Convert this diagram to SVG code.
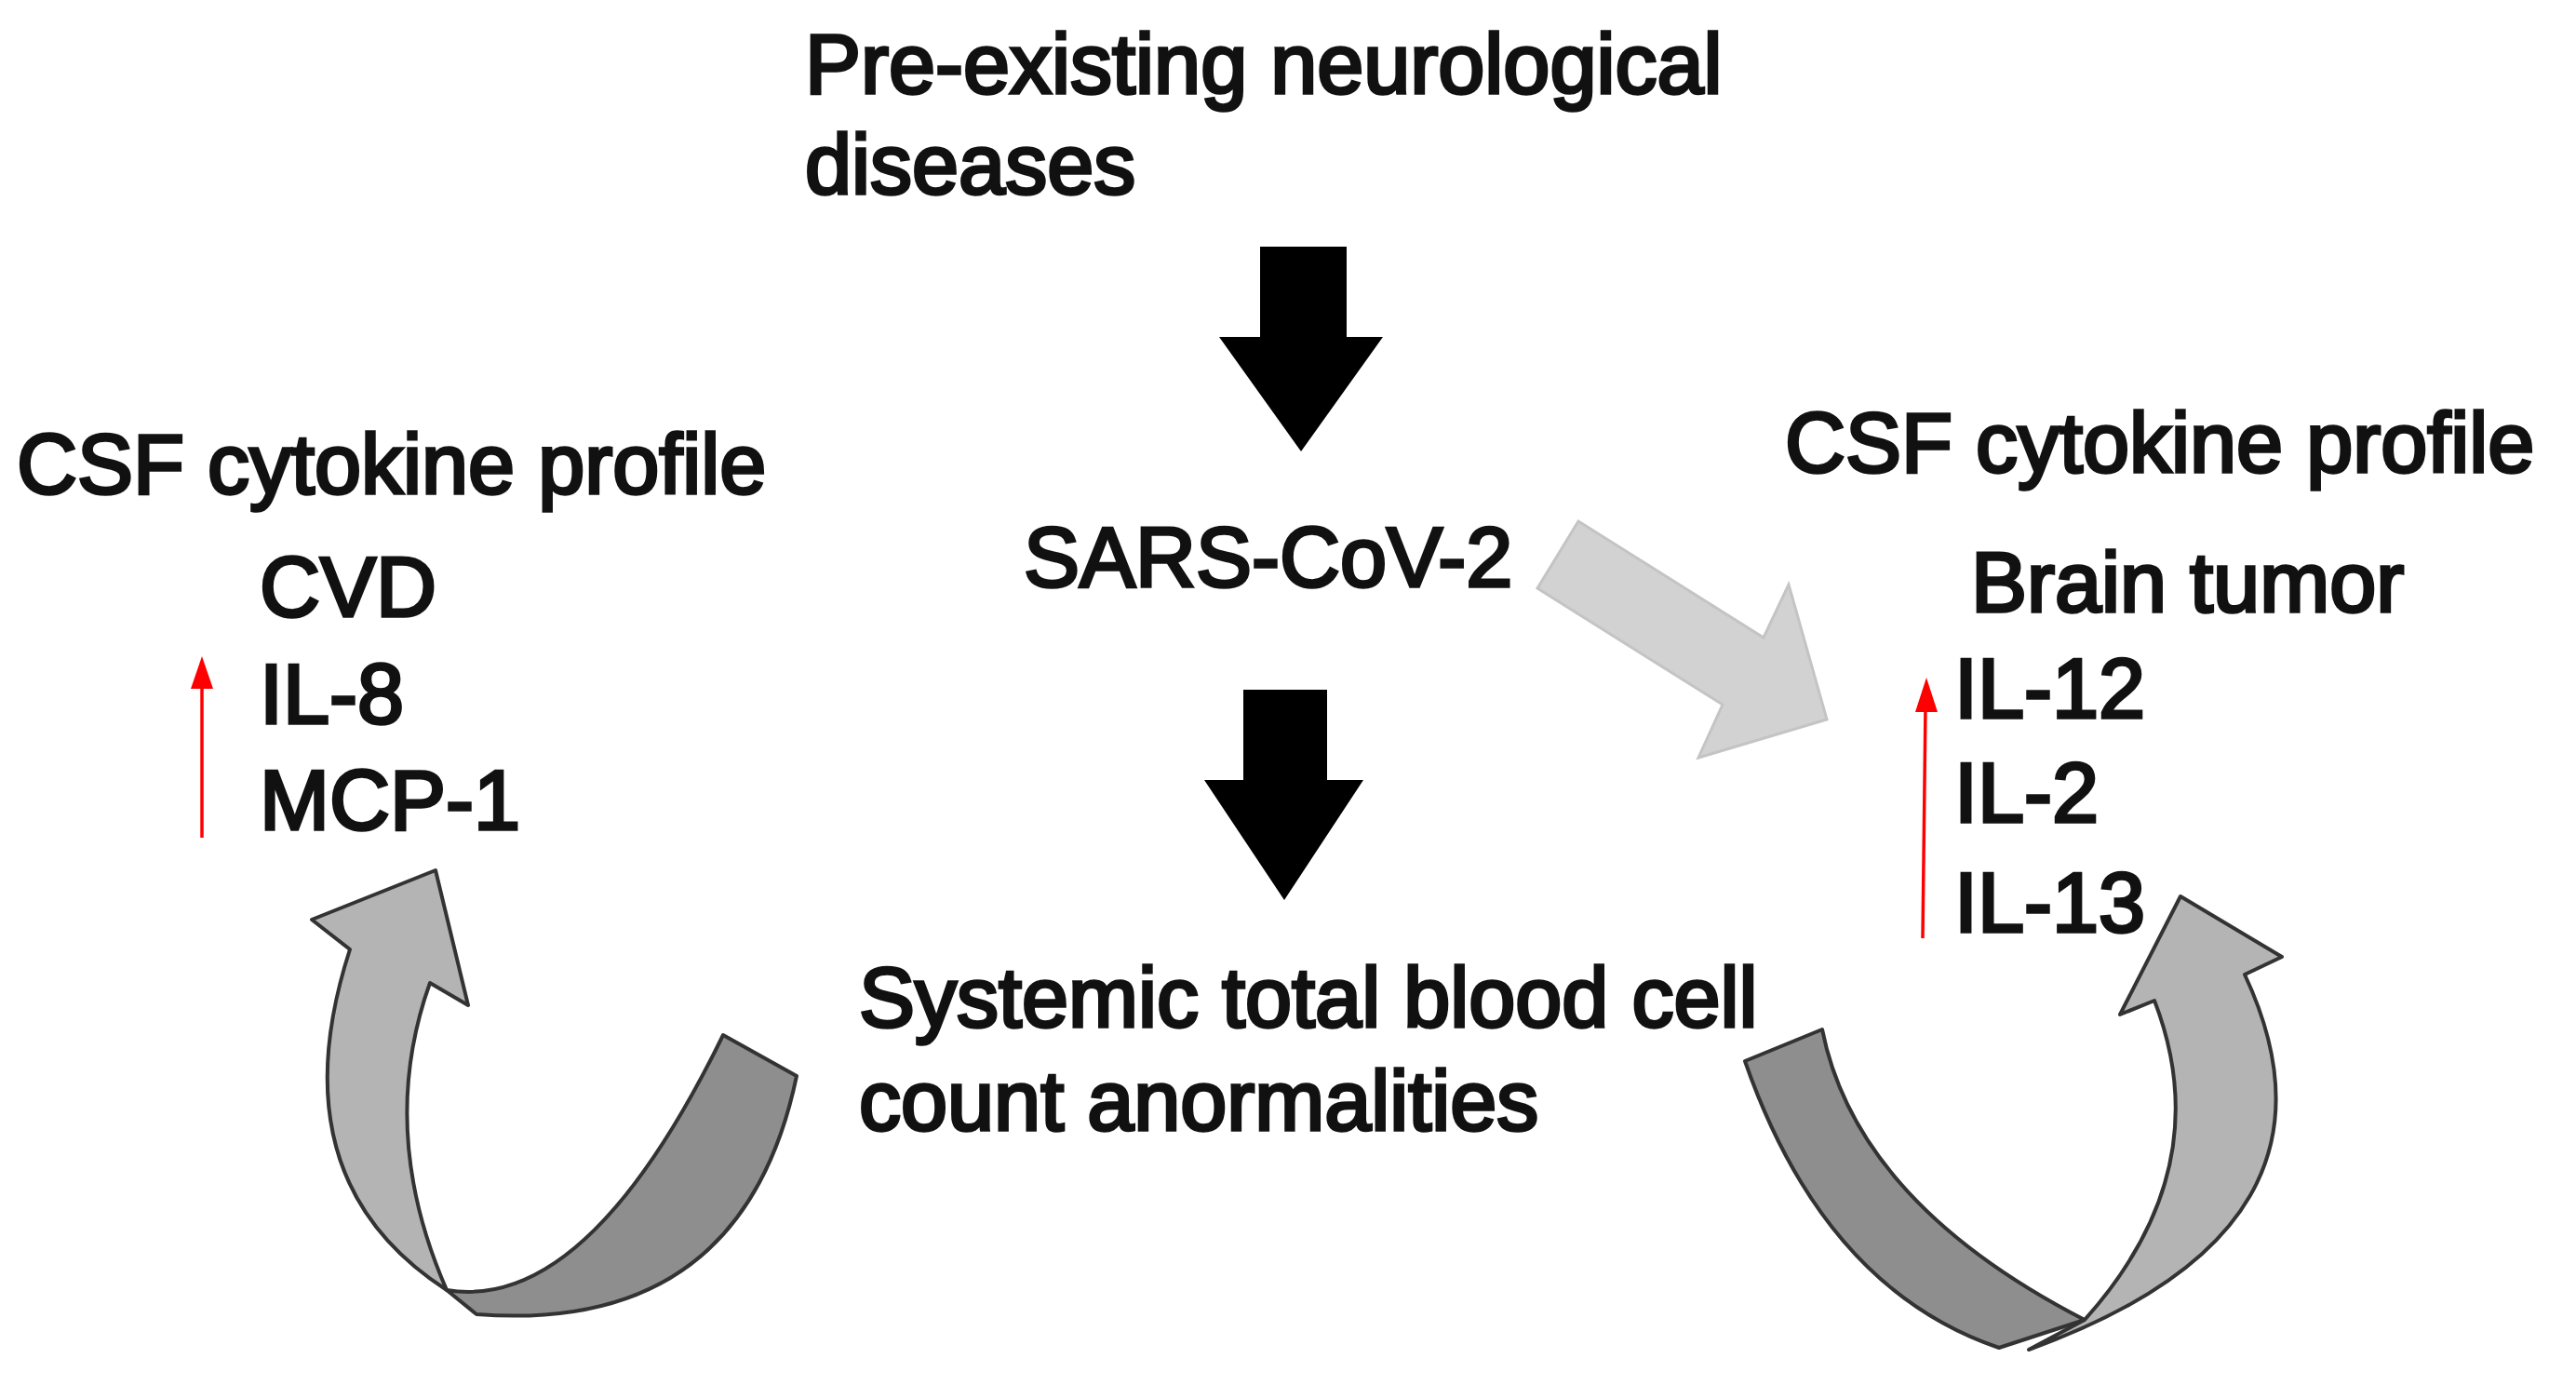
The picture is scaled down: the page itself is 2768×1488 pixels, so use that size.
<svg xmlns="http://www.w3.org/2000/svg" width="2768" height="1488" viewBox="0 0 2768 1488">
<style>
text{font-family:"Liberation Sans",Arial,sans-serif;font-size:90px;fill:#111;stroke:#111;stroke-width:3.5}
.blk{fill:#000}
.lt{fill:#b4b4b4;stroke:#333;stroke-width:4;stroke-linejoin:round}
.dk{fill:#8e8e8e;stroke:#333;stroke-width:4;stroke-linejoin:round}
.red{stroke:#f00;stroke-width:3.5;fill:none}
</style>
<g id="title"><text x="865" y="100">Pre-existing neurological</text><text x="865" y="208">diseases</text></g>
<g id="sars"><text x="1100" y="630">SARS-CoV-2</text></g>
<g id="systemic"><text x="923" y="1103">Systemic total blood cell</text><text x="923" y="1214">count anormalities</text></g>
<g id="left-profile"><text x="18" y="530">CSF cytokine profile</text><text x="279" y="662">CVD</text><text x="279" y="777">IL-8</text><text x="279" y="891">MCP-1</text></g>
<g id="right-profile"><text x="1918" y="507">CSF cytokine profile</text><text x="2118" y="657">Brain tumor</text><text x="2100" y="771">IL-12</text><text x="2100" y="883">IL-2</text><text x="2100" y="1001">IL-13</text></g>
<g id="connectors">
<path class="blk" d="M1354,265 H1447 V362 H1486 L1398,485 L1310,362 H1354 Z"/>
<path class="blk" d="M1336,741 H1426 V838 H1465 L1380,967 L1294,838 H1336 Z"/>
<path d="M1696,560 L1895,685 L1922,628 L1963,773 L1825,814 L1851,757 L1652,632 Z" fill="#d2d2d2" stroke="#c4c4c4" stroke-width="3"/>
<line class="red" x1="217" y1="900" x2="217" y2="735"/><path d="M217,705 L205,740 H229 Z" fill="#f00"/>
<line class="red" x1="2066" y1="1008" x2="2069" y2="760"/><path d="M2070,728 L2058,765 H2082 Z" fill="#f00"/>
<path class="dk" d="M480,1386 Q631,1411 777,1112 L856,1156 Q798,1434 512,1412 Z"/>
<path class="lt" d="M480,1386 Q296,1267 376,1020 L335,988 L468,935 L503,1080 L462,1056 Q405,1215 480,1386 Z"/>
<path class="dk" d="M1875,1140 Q1960,1384 2148,1448 L2240,1418 Q1995,1292 1958,1106 Z"/>
<path class="lt" d="M2240,1418 Q2385,1256 2315,1075 L2278,1090 L2343,963 L2452,1028 L2412,1047 Q2540,1320 2180,1450 Z"/>
</g>
</svg>
